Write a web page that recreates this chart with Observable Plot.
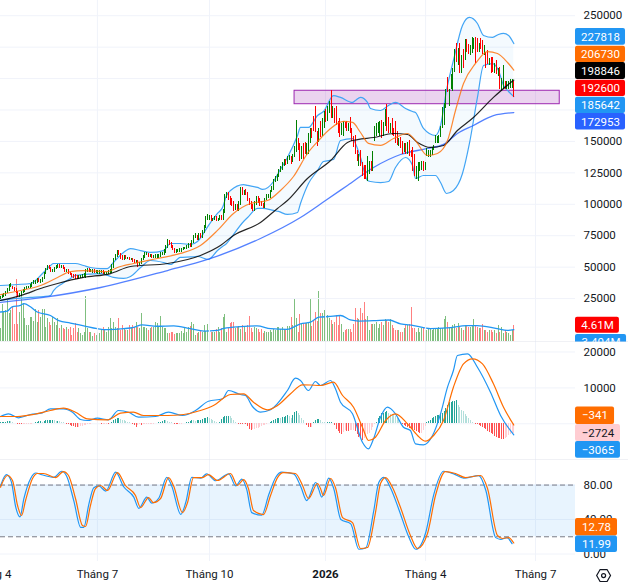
<!DOCTYPE html>
<html><head><meta charset="utf-8">
<script src="https://cdn.jsdelivr.net/npm/d3@7"></script>
<script src="https://cdn.jsdelivr.net/npm/@observablehq/plot@0.6"></script>
<style>
html,body{margin:0;padding:0;background:#fff;overflow:hidden}
#chart{position:relative;width:628px;height:582px;overflow:hidden}
#chart svg{position:absolute;left:0;display:block;overflow:hidden}
</style></head><body><div id="chart"></div>
<script>
// Prices in thousands, by bar (bar numbers run left to right)
const opens=[
25,26,27,28,30,32,35,35,33,32, 30,27,28,30,31,33,34,34,35,37, 37,38,40,38,39,41,45,48,50,49,
47,47,49,50,51,50,50,49,47,47, 45,44,43,43,42,41,42,42,43,42, 47,48,47,46,47,46,45,45,46,46,
45,45,45,46,46,50,56,59,62,60, 58,56,58,57,57,56,56,55,54,54, 52,53,56,58,60,60,59,59,58,58,
58,58,59,60,60,62,66,70,68,66, 64,62,63,63,63,64,65,65,66,68, 67,70,74,74,72,76,74,78,82,88,
88,90,87,88,89,87,88,90,88,94, 106,108,104,103,100,96,98,95,100,112, 108,110,108,103,100,98,95,100,104,103,
100,99,98,104,106,106,110,112,118,119, 122,126,128,131,134,133,136,137,134,138, 143,150,146,137,146,148,141,141,150,158,
165,176,156,150,162,155,163,172,168,176, 182,170,174,176,164,166,156,155,164,165, 160,165,158,152,154,141,136,142,131,128,
130,120,125,130,127,153,155,158,156,160, 156,163,178,168,158,167,158,165,157,148, 150,148,142,146,143,150,141,144,138,122,
120,127,128,133,128,139,139,138,140,144, 149,150,149,154,162,165,178,200,179,192, 191,206,222,214,226,206,222,215,230,226,
220,221,225,232,231,222,231,229,220,220, 221,212,216,216,206,213,204,208,192,192, 197,192,192,192,193,198];
const closes=[
26,27,28,30,32,35,35,33,32,30, 27,28,30,31,33,34,34,35,37,38, 38,40,39,39,41,45,48,50,49,47,
47,49,50,51,50,50,49,47,47,45, 44,43,42,42,41,42,42,43,43,47, 48,47,47,47,46,46,46,46,46,45,
45,45,46,46,50,56,59,62,60,58, 56,58,57,57,56,56,55,54,54,52, 53,56,58,60,60,59,59,58,58,58,
58,59,60,60,62,66,70,68,66,64, 62,63,63,63,64,65,65,66,68,67, 70,74,74,72,76,74,78,82,88,88,
90,87,88,89,87,88,90,88,94,106, 108,104,100,99,96,98,95,100,112,108, 110,108,103,100,98,95,100,104,103,100,
99,98,104,106,106,110,112,118,119,122, 126,128,131,134,133,136,137,134,138,144, 165,145,137,141,138,141,146,154,157,155,
160,158,150,156,155,163,172,168,176,180, 170,174,166,164,160,156,162,164,163,160, 163,158,152,146,141,136,138,131,123,122,
121,135,133,128,140,160,162,164,165,156, 163,170,160,158,162,158,155,150,148,150, 146,142,146,143,147,141,138,128,124,127,
130,131,133,127,131,143,141,142,144,146, 154,152,154,161,175,177,190,190,190,202, 207,222,214,218,205,212,209,230,222,220,
224,232,230,212,222,226,224,220,224,209, 212,215,205,206,208,204,206,192,198,209, 192,196,197,198,198,192.6];
const highs=[
27,28,29,31,33,36,37,35,34,33, 31,29,31,32,34,35,35,36,38,39, 39,41,41,40,42,46,49,51,51,50,
48,50,51,52,52,51,51,50,48,48, 46,45,44,44,43,43,43,44,45,48, 49,49,48,48,48,47,47,47,47,47,
46,46,47,48,52,57,60,63,63,61, 59,59,59,58,58,57,57,56,55,55, 54,57,59,62,62,61,60,60,59,60,
60,60,62,62,64,67,72,71,70,67, 65,64,64,65,65,66,66,67,69,69, 71,75,77,75,77,77,79,83,90,92,
91,91,89,90,90,89,91,91,96,108, 109,109,106,105,102,100,100,102,113,113, 111,112,109,105,102,100,102,106,106,105,
102,101,105,108,108,111,114,120,122,124, 128,130,133,136,136,138,139,138,140,146, 167,152,148,146,148,149,148,156,160,160,
170,178,158,160,166,168,174,175,178,182, 190.5,178,176,178,166,168,164,166,165,166, 164,169,160,154,155,143,140,143,133,131,
131,138,134,134,142,162,164,165,166,167, 165,175,179,169,164,168,160,166,158,152, 153,150,148,148,149,151,143,145,140,130,
133,133,134,134,133,144,143,143,145,147, 155,154,155,162,177,180,191,201,191,203, 208,223,228,224,228,218,223,231,231,227,
226,233,232,233,232,228,232,230,226,221, 222,216,217,217,212,214,208,209,200,210, 198,198,198,199,199,198];
const lows=[
24,25,26,27,29,31,34,32,31,29, 26,26,27,29,30,32,33,33,34,36, 36,37,38,37,38,40,44,47,48,46,
46,46,48,49,49,49,48,46,46,44, 43,42,41,40,40,40,41,41,42,41, 46,46,46,45,45,45,44,44,45,44,
44,44,44,45,45,49,55,58,59,56, 55,55,56,56,55,55,54,53,53,50, 51,52,55,57,59,58,58,57,57,57,
57,57,58,59,59,61,65,67,65,63, 61,61,62,62,62,63,64,64,65,66, 66,69,73,71,71,73,73,77,81,87,
87,86,86,87,86,86,87,87,87,93, 105,103,99,98,94,95,94,94,99,107, 107,107,102,99,96,94,94,99,101,98,
98,97,97,103,105,105,109,111,117,118, 121,125,127,130,131,132,135,132,133,137, 141,143,134,136,136,140,139,140,148,152,
158,157,146,149,153,154,160,165,166,172, 168,168,164,163,156,153,155,154,160,158, 158,156,150,145,140,134,130,130,122,120,
120,118,124,126,126,150,154,156,154,152, 154,162,158,156,156,155,154,148,147,146, 144,140,141,140,140,138,137,126,122,120,
118,126,127,126,127,138,137,137,139,143, 148,148,148,153,160,163,176,189,178,191, 190,205,213,210,204,204,208,214,221,219,
218,220,223,212,221,221,223,219,218,208, 211,210,204,205,204,203,202,191,190,191, 191,191,191,192,192,185];
// Volume, millions, by bar
const volumes=[
3.7,10.7,8.7,8.9,11.8,8,8.9,10,5,18, 5,8.5,14,11,6.5,4.6,4.6,7,7,5.9, 9.1,5.6,8.8,7,9.1,9.1,4.1,6.5,5.6,4.6,
7,5.6,4.6,6.5,3.7,4.6,3.7,3.4,4.1,3.4, 3.9,1.7,3.7,5.1,2.7,3.7,2.2,1.7,2.7,13, 3.7,2.7,2.7,1.3,2.2,1.7,2.7,2.2,3.2,4.1,
3.2,2.7,4.1,6.5,3.7,5.6,4.1,3.7,6.5,3.2, 4.6,3.7,3.2,3.2,4.6,3.7,4.6,4.1,5.6,4.1, 3.7,8.2,4.1,4.1,3.7,3.2,3.7,4.1,4.1,5.6,
5.1,4.1,7.2,4.1,3.8,3.7,2.2,2.4,2.6,2.7, 2,2.4,2.2,2.4,3,2.4,3.7,2.7,3.9,4.3, 5.6,4.9,1.7,2.2,2.7,3,2.7,4.6,3,4.9,
2.7,2.7,2.7,2.7,3.4,4.1,2.7,3.7,6.8,7.8, 2.7,3.7,5.1,5.5,5.5,3.7,4.1,4.3,3.4,4.6, 4.1,2.7,4.6,7.2,3.7,2.7,4.1,3.7,3.4,2.7,
3.4,2.2,3,2.7,2.7,3.2,2.7,3.4,3.2,3.9, 3.9,3.4,4.1,3.4,3.2,4.3,4.3,6.8,4.6,12.1, 6.5,2.7,7.8,5.1,5.3,5.1,5.3,5.6,12.1,4.3,
6,8.5,5.9,14.4,8,8,9,7,7.5,6.5, 6,5,5.6,7.5,4.6,7.5,5,2.7,3.2,3.4, 3.4,3.4,2.7,5,9.4,6.5,6.2,9.4,8,11.3,
6.2,7.2,3.2,5,5,5,5.6,3.7,5,5.6, 4.6,6.2,6,5.6,6.2,4.6,3.7,3.2,3.2,3.2, 2.7,2.7,3.7,5,4.6,5,9.7,3.7,3.7,2.7,
3.7,2.7,3.7,3.7,3.2,3.2,3.7,3.7,3.2,3.7, 3.7,3.7,4.1,3.7,3.7,6.2,7.2,5.6,3.9,4.1, 4.6,5,3.7,5.3,4.1,3.7,3.2,4.6,4.6,4.1,
4.1,4.3,6.2,4.6,4.1,3.7,3.7,5,3.2,3.2, 2.7,3.2,3.2,2.7,3.2,2.2,4.6,2.7,4.1,2.2, 3.2,2.7,2.2,1.7,3.2,4.61];
// MACD histogram, by bar
const histogram=[
300,400,500,500,600,700,600,300,200,100, -100,-200,-300,-300,-300,-200,-200,-100,-100,100, 300,500,600,600,500,700,800,800,900,900,
900,800,700,700,600,500,300,100,-100,-300, -500,-700,-800,-1000,-1100,-1000,-800,-700,-500,-400, -300,-200,-100,100,100,200,100,100,-100,-100,
-100,-100,-200,200,500,800,1100,1400,1600,1200, 900,800,700,500,300,100,-300,-500,-1000,-500, -300,-400,-300,-200,-200,-200,-100,-100,-100,100,
100,300,500,700,900,800,700,500,300,200, -100,-200,-300,-300,-200,100,200,300,500,700, 900,800,700,800,900,1000,1100,1400,1500,1700,
1500,1300,900,600,400,200,500,1100,1800,2000, 2000,2000,1900,1400,1000,500,200,-100,-200,-300, -100,-200,-800,-1500,-2000,-1700,-1500,-1300,-1200,-1000,
-800,-600,-400,-200,100,300,600,900,1100,1400, 1600,1500,1700,1800,2000,2200,1900,1600,2400,3200, 3300,2800,2200,1400,900,200,-600,-900,-1000,-900,
500,900,1200,1300,900,500,300,200,400,500, 500,100,-600,-1500,-2200,-2800,-3000,-2500,-2000,-2100, -2200,-2000,-2000,-1800,-2200,-3000,-3700,-4200,-4600,-4000,
-3400,-3000,-2600,-1800,-1000,-300,500,1500,2000,3000, 3000,3200,3300,3000,2700,2600,2200,1900,1600,1200, 300,-200,-500,-800,-1000,-1300,-1500,-1700,-1900,-2200,
-2500,-2700,-2600,-1800,-800,300,600,1000,1400,1800, 2100,2300,2400,2600,3000,3500,4400,5000,5800,6000, 6200,6300,6500,5000,4500,3800,3300,2700,2000,1400,
800,400,200,-100,-300,-500,-700,-1000,-1300,-1700, -2100,-2500,-2800,-3100,-3400,-3700,-4000,-4200,-4300,-4400, -4200,-3800,-3300,-3000,-2800,-2724];

// Bollinger bands (shared bar positions)
const bandBars=[0,9.8,17.2,24.7,28.7,30.5,35.6,40.2,43.1,47.7,51.7,57.5,61.5,64.9,70.7,74.7,80.5,86.2,93.7,97.7,
103.4,109.2,113.2,119.5,124.7,127.6,129.9,132.2,139.7,142,147.7,150.6,156.9,159.8,164.9,170.7,172.4,177,182.2,185.6,
191.4,195.4,202.3,204,206.9,210.9,212.6,218.4,223,227,232.8,236.8,238.5,243.1,250,252.9,256.3,260.3,265.5,269.5,
274.1,277.6,282.8,286.2,289.1,292,295];
const bandUpper=[35.4,36.2,37,45.7,51.3,52.9,52.9,52.9,52.9,51.3,49.7,48.9,48.9,53.7,61.7,64.8,63.2,61.7,63.2,68.8,
68.8,68,70.4,83.1,92.7,97.4,107,111,115.7,115,113.4,111.8,118.1,125.3,137.2,154.7,161.1,161.1,170.6,173.8,
186.5,185,181,182.6,185,181,176.2,174.6,178.6,181,176.2,173.8,173,160.3,154.7,162.7,190.5,214.4,242.2,248.6,
243.8,234.3,232.7,235.1,235.9,234.3,227.818];
const bandLower=[23.5,25.1,25.9,26.6,27.4,31.4,37,41,43.4,44.2,44.5,44.9,43.4,41.8,41,42.6,49.7,55.3,53.7,52.1,
57.7,58.1,58.5,56.1,63.2,66.4,68.8,72.8,86.3,89.5,96.7,96.7,95.1,94.3,91.9,93.5,100.6,116.5,126.9,134,
135.6,150.7,152.3,148.4,137.2,118.9,118.1,117.3,118.1,129.3,137.2,130.9,120.5,122.9,122.9,117.3,108.6,111,124.5,148.4,
185,210.4,211.9,206.4,194.5,189.7,185.642];
const basisBars=[0,11.5,23,32.8,40.2,47.7,61.5,67.2,76.4,90.2,103.4,114.9,124.7,133.9,143.7,153.4,160.9,168.4,176.4,182.8,
189.7,197.1,202.3,206.9,211.5,218.4,225.9,233.9,238.5,245.4,251.1,256.9,261.5,266.1,273,279.9,285.6,291.4,295];
const basis=[28.2,31.4,35.4,41.8,46.5,47.3,46.5,49.7,52.9,56.9,60.9,67.2,79.2,92.7,100.6,103,111,122.1,140.4,150.7,
160.3,165.9,165.1,157.1,148.4,146.8,152.3,156.3,150.7,138.8,140.4,150.7,174.6,196.1,212,221.5,219.9,212.8,206.73];
const ma50Bars=[0,11.5,24.7,32.8,47.7,63.2,74.7,96,114.9,126.4,133.9,149.4,159.2,164.9,176.4,189.7,199.4,205.2,214.4,225.9,233.9,239.7,247.1,254.6,262.6,271.8,283.3,295];
const ma50=[23.5,27.4,33.8,37,41.8,44.9,50.5,52.9,59.3,67.2,75.2,85.5,96.7,103,120.5,134.8,149.2,151.5,153.1,156.3,155.5,149.2,145.2,146.8,158.7,169,185,198.846];
const ma100Bars=[0,24.7,57.5,96,119,149.4,172.4,186.8,199.4,214.4,229.9,245.4,254.6,262.6,271.8,283.3,295];
const ma100=[21.9,25.9,33.8,47.3,56.1,72.8,89.5,103,115,129.3,139.6,144.4,147.6,156.3,162.7,170.6,172.953];
const volMaBars=[0,3.8,6.7,11.5,13.4,17.2,21.1,28.7,33.5,40.2,47.9,55.6,61.3,70.9,76.6,81.4,90,99.6,109.2,116.9,124.5,128.4,137.9,147.5,155.2,164.8,172.4,178.2,183,188.7,195.4,201.1,205.9,214.5,223.2,229.9,237.5,247.1,256.7,268.2,273.9,285.4,291.2,295];
const volMa=[8.5,8.75,10,10.4,10.9,10,8.5,7.5,6,5.3,4.5,3.7,3.4,3.7,4.1,4.8,4.4,4.5,3.7,3,3.2,3.8,4.3,4.5,3.7,3.5,5.1,5.6,7,7.2,7.5,6.2,5.9,6,6.2,5.1,4.6,3.7,3.9,4.6,4.6,3.7,3.2,3.404];
const macdBars=[0,4.6,10.3,17.2,24.1,28.7,36.2,41.4,46,50,55.7,62.1,67.8,73.6,79.3,89.1,96.6,104.6,112.1,119.5,127.6,131,137.9,140.8,144.8,149.4,155.2,164.9,169.5,172.4,177,181,183.9,189.7,192.5,195.4,202.3,208,211.5,214.4,218.4,222.4,227,231.6,235.6,238.5,243.1,248.3,252.9,256.9,260.3,262.6,268.4,274.1,281.6,287.4,295];
const macd=[2033,2785,1671,2590,3064,4178,4178,3231,1198,919,1560,1114,3704,3231,1838,2033,3231,2312,3704,6294,6963,9274,8160,7881,4818,3231,3899,9274,12700,12059,9274,11781,10666,12059,9748,6016,2785,-5124,-6963,-4178,1838,4623,2785,-947,-1866,-5570,-5849,-3258,2785,10193,14844,19022,19495,15763,8801,2312,-3065];
const signalBars=[0,9.8,19,28.7,36.2,43.1,50,61.5,69,76.4,82.2,96,105.2,114.9,122.4,132.2,139.7,145.4,153.4,159.2,166.7,173.6,178.2,183.9,191.4,196.6,202.9,208,211.5,215.5,221.3,227,233.9,239.7,244.3,248.9,254.6,260.3,266.1,271.3,277,283.3,289.1,295];
const signal=[2033,2033,2590,3704,4345,3231,1393,1114,2952,3231,2312,2312,2590,3704,5097,8160,8355,6016,3899,5097,8355,10862,10806,10666,11586,7882,4623,-947,-4651,-3732,919,2785,0,-3258,-4846,-3258,919,10193,16710,18103,16710,11140,4623,-341];
const stochDBars=[0,4,6.9,9.8,12.1,14.4,18.4,21.3,24.7,31.6,36.2,39.1,43.1,47.1,48.9,51.7,54.6,57.5,61.5,67.2,71.8,77.6,80.5,85.1,87.9,92,96.6,99.4,104.6,107.5,110.9,116.1,119.5,124.7,132.2,136.2,139.7,142.5,145.4,151.1,155.2,159.2,162.6,169.5,173.6,177,182.2,183.9,185.6,189.7,192.5,196.6,202.3,206.9,210.9,215.5,218.4,221.3,225.3,229.9,235.6,239.7,245.4,250,255.7,261.5,267.2,275.9,279.9,285.6,288.5,292,295];
const stochD=[77.5,91.1,85.3,56.3,44.7,62.1,87.6,93.4,93.4,88.7,95.7,91.1,64.4,33.1,31.9,56.3,76,79.5,73.7,94.5,79.5,67.9,53.9,65.5,59.7,64.4,88.7,79.5,48.1,59.7,88.7,88.7,92.2,85.3,93.4,79.5,86.4,76,50.5,45.8,67.9,88.7,94.5,93.4,79.5,64.4,81.8,76,67.9,87.6,77.1,42.3,36.5,6.4,7.5,48.1,81.8,88.7,77.1,53.9,21.5,6.4,23.8,67.9,95.7,93.4,88.7,91.1,76,21.5,18,19.1,12.78];
const stochKBars=[0,3.4,6.2,8.8,11.2,13.4,17.4,20.3,23.7,30.6,35.2,38.1,42.1,46.1,47.9,50.7,53.6,56.5,60.5,66.2,70.8,76.6,79.5,84.1,86.9,91,95.6,98.4,103.6,106.5,109.9,115.1,118.5,123.7,131.2,135.2,138.7,141.5,144.4,150.1,154.2,158.2,161.6,168.5,172.6,176,181.2,182.9,184.6,188.7,191.5,195.6,201.3,205.9,209.9,214.5,217.4,220.3,224.3,228.9,234.6,238.7,244.4,249,254.7,260.5,266.2,274.9,278.9,284.6,287.5,291,294];
const stochK=[79,92,84,54,43,64,88,94,92,89,96,90,62,31,31,57,77,79,73,95,78,66,53,66,59,65,89,79,46,60,89,88,93,85,93,79,87,75,48,45,69,89,95,93,78,62,83,75,66,88,76,40,35,5.5,7,50,83,89,76,52,20,5.5,25,69,96,93,88,91,74,19,17,19,11.99];

// Axis ticks and labels
const priceGrid=[25,50,75,100,125,150,175,200,225,250];
const priceLabels=[25,50,75,100,125,150,250];
const macdGrid=[0,10000,20000];
const macdLabels=[10000,20000];
const stochTicks=[0,40,80];
const stochLevels=[20,80];
const monthTicks=[-5.7,55.7,120.1,244.3,307.5];
const monthLabels=["Tháng 4","Tháng 7","Tháng 10","Tháng 4","Tháng 7"];
const yearTick=[186.8];
const yearLabel="2026";
const zone={bar1:169,bar2:321.4,top:190.3,bottom:179.6};

// Last-value tags: label, colour, text colour, then where the tag sits on its panel's scale
const priceTags=[["227818","#2196f3","#fff",239.8,226.6,359.2],["206730","#ff6d00","#fff",225.8,212.8,359.2],["198846","#000000","#fff",212.8,199.3,359.2],["192600","#ff0000","#fff",198.7,185.7,359.2],["185642","#2196f3","#fff",185.2,172.2,359.2],["172953","#2962ff","#fff",172.2,159,359.2]];
const volumeTags=[["4.61M","#ff0000","#fff",7,2.4,355.7],["3.404M","#2196f3","#fff",2,-2.6,359.8]];
const macdTags=[["\u2212341","#ff6d00","#fff",4700,-200,352.9],["\u22122724","#ffcdd2","#131722",-200,-4900,356.3],["\u22123065","#2196f3","#fff",-4900,-9600,356.3]];
const stochTags=[["12.78","#ff6d00","#fff",41.2,21,354.6],["11.99","#2196f3","#fff",21,1.7,354.6]];

const W=628, RIGHT=53, PLOT_W=W-RIGHT, BARPX=1.74, XMAX=PLOT_W/BARPX, TAG_X=XMAX, FULL=W/BARPX;
const GRID="#f0f3fa", SEP="#e0e3eb", INK="#131722", FONT="Roboto, sans-serif", FS=11.5;
const bars=d3.range(closes.length);
const up=i=>closes[i]>=opens[i];
const base=(h,m={})=>({width:W,height:h,marginTop:0,marginLeft:0,marginRight:RIGHT,marginBottom:0,
  x:{domain:[0,XMAX],axis:null},style:{background:"transparent",fontFamily:FONT},...m});
const grids=()=>Plot.gridX([...monthTicks,...yearTick],{stroke:GRID,strokeOpacity:1,strokeWidth:1});
const tags=t=>[
  Plot.rect(t,{x1:TAG_X,x2:d=>d[5],y1:d=>d[3],y2:d=>d[4],fill:d=>d[1],r:2}),
  Plot.text(t,{x:d=>(TAG_X+d[5])/2,y:d=>(d[3]+d[4])/2,text:d=>d[0],fill:d=>d[2],fontSize:FS,fontFamily:FONT})
];
const yAxis=(gridTicks,labelTicks,fmt)=>[
  Plot.gridY(gridTicks,{stroke:GRID,strokeOpacity:1,strokeWidth:1}),
  Plot.axisY(labelTicks,{anchor:"right",tickSize:0,tickPadding:8,tickFormat:fmt,fontSize:FS,color:INK,label:null,fontFamily:FONT})
];

// Volume pane, under the price pane
const vol=Plot.plot(base(342,{
  y:{domain:[-0.29,98.3],axis:null},
  marks:[
    Plot.ruleX(bars,{x:i=>i,y1:0,y2:i=>volumes[i],strokeWidth:1,shapeRendering:"crispEdges",stroke:i=>up(i)?"#7fbf7f":"#ff8080"}),
    Plot.line(volMaBars,{x:volMaBars,y:volMa,stroke:"#2196f3",strokeWidth:1.3,curve:"monotone-x"}),
    ...tags(volumeTags)
  ]}));

// Price pane
const main=Plot.plot(base(342,{
  y:{domain:[-9.94,262.1],axis:null},
  marks:[
    grids(),
    ...yAxis(priceGrid,priceLabels,d=>String(d*1000)),
    Plot.ruleY([-9.55],{x1:0,x2:FULL,stroke:SEP,strokeWidth:1}),
    Plot.areaY(bandBars,{x:bandBars,y1:bandLower,y2:bandUpper,fill:"#2196f3",fillOpacity:0.05,curve:"monotone-x"}),
    Plot.rect([zone],{x1:"bar1",x2:"bar2",y1:"bottom",y2:"top",fill:"#9c27b0",fillOpacity:0.2,stroke:"#9c27b0",strokeWidth:1}),
    Plot.line(bandBars,{x:bandBars,y:bandUpper,stroke:"#42a5f5",strokeWidth:1.2,curve:"monotone-x"}),
    Plot.line(bandBars,{x:bandBars,y:bandLower,stroke:"#42a5f5",strokeWidth:1.2,curve:"monotone-x"}),
    Plot.line(ma100Bars,{x:ma100Bars,y:ma100,stroke:"#2962ff",strokeWidth:1.3,strokeOpacity:0.8,curve:"monotone-x"}),
    Plot.ruleX(bars,{x:i=>i,y1:i=>lows[i],y2:i=>highs[i],strokeWidth:1,shapeRendering:"crispEdges",stroke:i=>up(i)?"#008000":"#ff0000"}),
    Plot.line(ma50Bars,{x:ma50Bars,y:ma50,stroke:"#000",strokeWidth:1.2,strokeOpacity:0.85,curve:"monotone-x"}),
    Plot.line(basisBars,{x:basisBars,y:basis,stroke:"#ff6d00",strokeWidth:1.2,strokeOpacity:0.8,curve:"monotone-x"}),
    ...tags(priceTags)
  ]}));

// MACD pane
const histColor=i=>{const h=histogram[i],p=i?histogram[i-1]:0;
  return h>=0?(h>=p?"#26a69a":"#b2dfdb"):(h<p?"#ff5252":"#ffcdd2");};
const macdP=Plot.plot(base(118,{
  y:{domain:[-10221,22642],axis:null},
  marks:[
    grids(),
    ...yAxis(macdGrid,macdLabels,d=>String(d)),
    Plot.ruleY([-10082],{x1:0,x2:FULL,stroke:SEP,strokeWidth:1}),
    Plot.ruleX(bars,{x:i=>i,y1:0,y2:i=>histogram[i],strokeWidth:1,shapeRendering:"crispEdges",stroke:histColor}),
    Plot.line(macdBars,{x:macdBars,y:macd,stroke:"#2196f3",strokeWidth:1.2,curve:"monotone-x"}),
    Plot.line(signalBars,{x:signalBars,y:signal,stroke:"#ff6d00",strokeWidth:1.2,curve:"monotone-x"}),
    ...tags(macdTags)
  ]}));

// Stochastic pane with the time axis
const monthText=new Map(monthTicks.map((t,i)=>[t,monthLabels[i]]));
const stochP=Plot.plot(base(122,{
  marginBottom:21,
  y:{domain:[-8.7,108.5],axis:null},
  marks:[
    grids(),
    ...yAxis(stochTicks,stochTicks,d=>d.toFixed(2)),
    Plot.rect([stochLevels],{x1:0,x2:XMAX,y1:d=>d[0],y2:d=>d[1],fill:"#2196f3",fillOpacity:0.1}),
    Plot.ruleY(stochLevels,{stroke:"#787b86",strokeWidth:1,strokeDasharray:"5 3"}),
    Plot.line(stochKBars,{x:stochKBars,y:stochK,stroke:"#2196f3",strokeWidth:1.2,curve:"monotone-x"}),
    Plot.line(stochDBars,{x:stochDBars,y:stochD,stroke:"#ff6d00",strokeWidth:1.2,curve:"monotone-x"}),
    Plot.axisX(monthTicks,{anchor:"bottom",tickSize:0,tickPadding:8,tickFormat:d=>monthText.get(d),fontSize:FS,color:INK,label:null,fontFamily:FONT}),
    Plot.axisX(yearTick,{anchor:"bottom",tickSize:0,tickPadding:8,tickFormat:()=>yearLabel,fontSize:FS,color:INK,label:null,fontWeight:"bold",fontFamily:FONT}),
    ...tags(stochTags),
    Plot.dot([346.6],{x:d=>d,y:-25,symbol:"hexagon",r:6,rotate:90,stroke:INK,fill:"none",strokeWidth:1.2}),
    Plot.dot([346.6],{x:d=>d,y:-25,r:2,stroke:INK,fill:"none",strokeWidth:1.2})
  ]}));

const root=document.getElementById("chart");
[[vol,0],[main,0],[macdP,342],[stochP,460]].forEach(([el,top])=>{el.style.top=top+"px";root.appendChild(el);});
</script></body></html>
